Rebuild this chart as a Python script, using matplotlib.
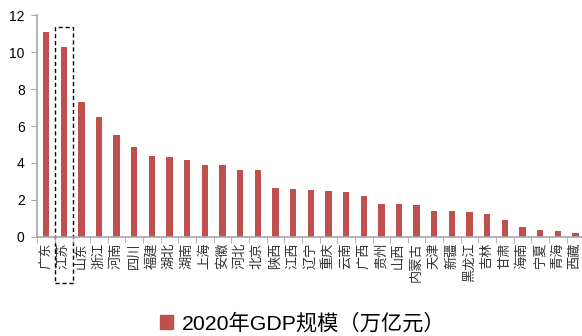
"""2020年各省GDP规模柱状图"""

import matplotlib.pyplot as plt
from matplotlib.patches import Patch, Rectangle

plt.rcParams["font.family"] = ["Liberation Sans", "Noto Sans CJK SC"]

provinces = ["广东", "江苏", "山东", "浙江", "河南", "四川", "福建", "湖北", "湖南", "上海",
             "安徽", "河北", "北京", "陕西", "江西", "辽宁", "重庆", "云南", "广西", "贵州",
             "山西", "内蒙古", "天津", "新疆", "黑龙江", "吉林", "甘肃", "海南", "宁夏", "青海",
             "西藏"]
gdp = [11.08, 10.27, 7.31, 6.46, 5.50, 4.86, 4.39, 4.34, 4.18, 3.87,
       3.87, 3.62, 3.61, 2.62, 2.57, 2.51, 2.50, 2.45, 2.22, 1.78,
       1.77, 1.74, 1.41, 1.38, 1.37, 1.23, 0.90, 0.55, 0.39, 0.30,
       0.19]
legend_label = "2020年GDP规模（万亿元）"
highlight = "江苏"

bar_color = "#C0504D"
grey = "#A6A6A6"

fig = plt.figure(figsize=(5.82, 3.36), dpi=100)
ax = fig.add_axes([0.064, 0.295, 0.94, 0.66])

x = range(len(provinces))
ax.bar(x, gdp, width=0.36, color=bar_color)

ax.set_xlim(-0.5, len(provinces) - 0.5)
ax.set_ylim(0, 12)
ax.set_yticks(range(0, 13, 2))
ax.tick_params(axis="y", labelsize=10, length=4, color=grey, pad=5)

# 省份名旋转90度
ax.set_xticks(list(x))
ax.set_xticklabels(provinces, fontsize=9.5, rotation=90, va="top", ha="center",
                   color="#333333")
ax.tick_params(axis="x", length=0, pad=4)
ax.set_xticks([i + 0.5 for i in range(-1, len(provinces))], minor=True)
ax.tick_params(axis="x", which="minor", length=4, color=grey)

for side in ["top", "right"]:
    ax.spines[side].set_visible(False)
for side in ["left", "bottom"]:
    ax.spines[side].set_color(grey)
    ax.spines[side].set_linewidth(1.2)

# 江苏的虚线框
i = provinces.index(highlight)
ax.add_patch(Rectangle((i - 0.5, -2.5), 1.0, 13.85, fill=False, linestyle=(0, (3, 2)),
                       edgecolor="black", linewidth=1.0, clip_on=False))

fig.legend(handles=[Patch(color=bar_color, label=legend_label)], loc="lower center",
           bbox_to_anchor=(0.52, -0.05), frameon=False, fontsize=15.3,
           handlelength=0.6, handleheight=0.6, handletextpad=0.4)

fig.savefig("out.png", dpi=100)
plt.close(fig)
